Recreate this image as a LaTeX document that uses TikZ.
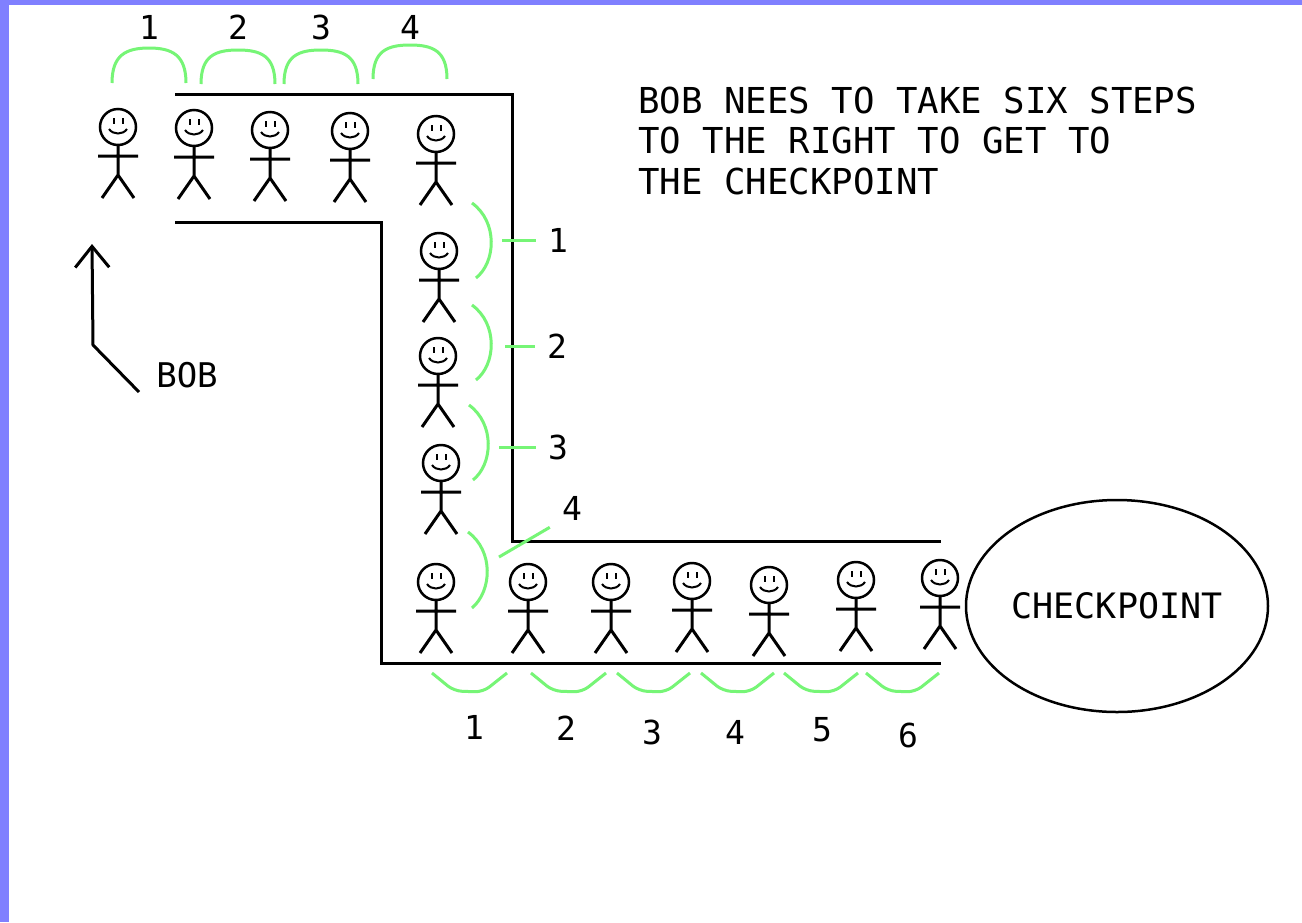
\documentclass[tikz,border=0pt]{standalone}
\usepackage{fontspec}
\setmainfont{DejaVu Sans Mono}
\usetikzlibrary{shapes.geometric,arrows.meta}
\definecolor{framebl}{RGB}{128,128,255}
\definecolor{stepgr}{RGB}{118,245,118}
\tikzset{
  wall/.style={line width=3pt},
  stepmark/.style={stepgr,line width=3pt},
  num/.style={inner sep=0pt,font=\fontsize{33}{33}\selectfont},
  note/.style={anchor=base west,inner sep=0pt,font=\fontsize{35.7}{36}\selectfont},
  stickman/.pic={
    \draw[line width=2.5pt] (0,0) circle (18);
    \draw[line width=2pt] (-4.5,-9) -- (-4.5,-3) (4.5,-9) -- (4.5,-3);
    \draw[line width=2pt] (-9,2) .. controls (-5,8) and (5,8) .. (9,2);
    \draw[line width=3pt,line join=round] (0,18) -- (0,48) (-20,29) -- (20,29)
      (-16,71) -- (0,48) -- (16,71);
  }
}
\begin{document}
\begin{tikzpicture}[x=1pt,y=-1pt]
    \useasboundingbox (0,0) rectangle (1302,922);
    \fill[white] (0,0) rectangle (1302,922);
    \fill[framebl] (0,0) rectangle (1302,5);
    \fill[framebl] (0,0) rectangle (9,922);

    % the path Bob walks along
    \draw[wall] (175,94) -- (512,94) -- (512,541) -- (941,541);
    \draw[wall] (175,222) -- (381,222) -- (381,663) -- (941,663);

    % Bob at every step
    \foreach \hx/\hy [count=\i] in {118/127,194/128,270/130,350/131,436/134,
        439/251,438/356,441/463,
        436/582,528/582,611/582,692/581,769/585,856/580,940/578}{
        \pic (man\i) at (\hx,\hy) {stickman};
    }

    \node[draw,ellipse,line width=2.5pt,minimum width=302pt,minimum height=212pt,
        inner sep=0pt,font=\fontsize{35}{35}\selectfont] (chk) at (1117,606) {CHECKPOINT};

    % steps along the top
    \foreach \l/\r/\b/\p/\n in {112/186/83/48/1,201/275/84/50/2,284/358/84/50/3,373/447/79/45/4}{
        \draw[stepmark] (\l,\b) .. controls (\l,\b-28) and (\l+14,\p) .. ({(\l+\r)/2},\p)
            .. controls (\r-14,\p) and (\r,\b-28) .. (\r,\b);
        \node[num] (top\n) at ({(\l+\r)/2},27) {\n};
    }

    % steps down
    \foreach \t/\xa/\tx/\lx/\ly/\n in {203/472/502/558/240/1,305/472/505/557/346/2,405/469/499/558/447/3}{
        \draw[stepmark] (\xa,\t) .. controls (\xa+26,\t+19) and (\xa+24,\t+59) .. (\xa+4,\t+75);
        \node[num] (side\n) at (\lx,\ly) {\n};
        \draw[stepmark,shorten >=12pt] (\tx,\ly) -- (side\n.west);
    }
    \draw[stepmark] (468,532) .. controls (494,551) and (492,591) .. (472,608);
    \node[num] (side4) at (572,508) {4};
    \draw[stepmark,shorten >=14pt] (499,557) -- (side4.south west);

    % steps to the right
    \foreach \l/\r/\lx/\ly [count=\n] in {432/507/474/727,531/606/566/728,617/690/652/732,
        701/774/735/732,784/858/822/730,866/939/908/735}{
        \draw[stepmark,rounded corners=8pt] (\l,673) -- (\l+22,691) -- (\r-24,692) -- (\r,673);
        \node[num] (bot\n) at (\lx,\ly) {\n};
    }

    \node[inner sep=0pt,font=\fontsize{34}{34}\selectfont] (bob) at (187,375) {BOB};
    \coordinate (bobfoot) at (139,392);
    \coordinate (bobtip) at (92,244);
    \draw[wall,-{Straight Barb[length=21pt,width=34pt]}] (bobfoot) -- (93,345) -- (bobtip);

    \node[note] (note1) at (638,113) {BOB NEES TO TAKE SIX STEPS};
    \node[note] (note2) at (638,153) {TO THE RIGHT TO GET TO};
    \node[note] (note3) at (638,194) {THE CHECKPOINT};
\end{tikzpicture}
\end{document}
